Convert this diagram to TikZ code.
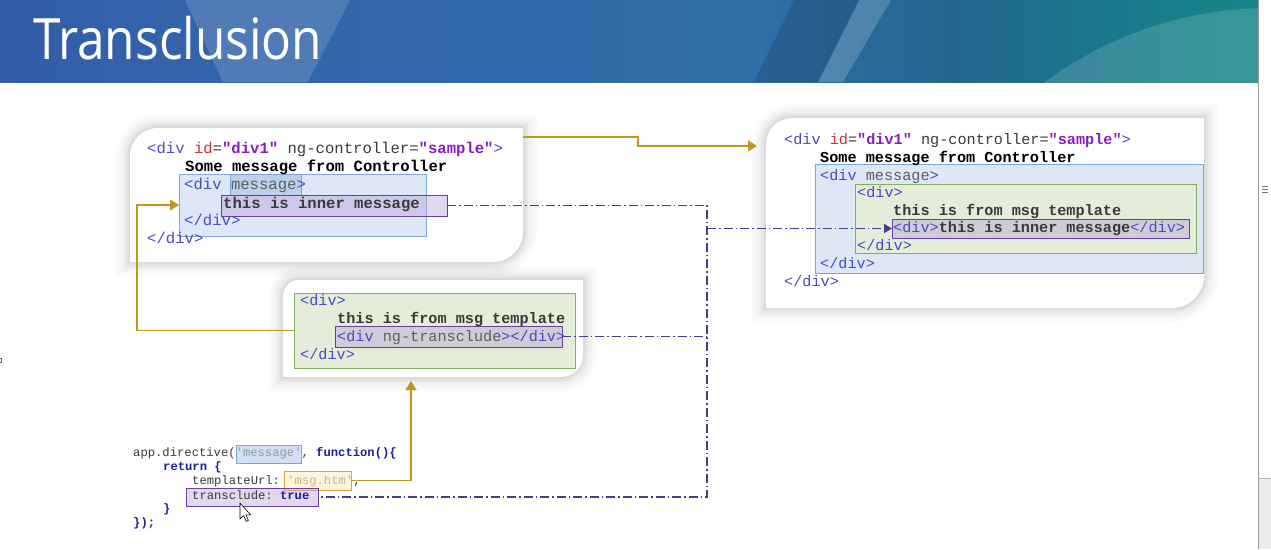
\documentclass[tikz,border=0pt]{standalone}
\usepackage{fontspec}
\setmainfont{Open Sans}
\setmonofont{Liberation Mono}
\usepackage{tikz}
\usetikzlibrary{arrows.meta, positioning}

\definecolor{tagblue}{HTML}{4A4AC4}
\definecolor{attrred}{HTML}{C8323C}
\definecolor{valpurple}{HTML}{8A1CC4}
\definecolor{kwnavy}{HTML}{1E1E96}
\definecolor{codegray}{HTML}{3A3A3A}
\definecolor{namegray}{HTML}{5E5E5E}
\definecolor{strgray}{HTML}{9A9A9A}
\definecolor{strtan}{HTML}{C4B48E}
\definecolor{edgeblue}{HTML}{7EA6D8}
\definecolor{fillblue}{HTML}{DDE7F6}
\definecolor{markblue}{HTML}{BBD0EB}
\definecolor{edgegreen}{HTML}{84AE5E}
\definecolor{fillgreen}{HTML}{E4EDD9}
\definecolor{edgepurple}{HTML}{6A3E9E}
\definecolor{fillpurple}{HTML}{B49BD6}
\definecolor{edgegold}{HTML}{D6A73C}
\definecolor{fillgold}{HTML}{FDF4DB}
\definecolor{flowgold}{HTML}{C0961F}
\definecolor{linkpurple}{HTML}{4A3C8C}
\definecolor{bannerA}{HTML}{2D3E8D}
\definecolor{bannerB}{HTML}{304A9C}
\definecolor{bannerC}{HTML}{3462AA}
\definecolor{bannerD}{HTML}{2F6EA8}
\definecolor{bannerE}{HTML}{22668E}
\definecolor{bannerF}{HTML}{16808A}
\definecolor{bannerG}{HTML}{189888}
\definecolor{bannerH}{HTML}{22A38E}

\pgfdeclarehorizontalshading{banner}{100bp}{color(0bp)=(bannerA); color(14bp)=(bannerB); color(30bp)=(bannerC); color(55bp)=(bannerD); color(63bp)=(bannerE); color(72bp)=(bannerF); color(85bp)=(bannerG); color(100bp)=(bannerH)}

\newcommand\tagc[1]{\textcolor{tagblue}{#1}}
\newcommand\attrc[1]{\textcolor{attrred}{#1}}
\newcommand\valc[1]{\textbf{\textcolor{valpurple}{#1}}}
\newcommand\kwc[1]{\textbf{\textcolor{kwnavy}{#1}}}

\tikzset{
    srcline/.style={font=\ttfamily\fontsize{#1}{18}\selectfont, text=codegray, inner sep=0, anchor=west, text height=10pt, text depth=2pt}, % html lines
    srcline/.default=15.2,
    jsline/.style={font=\ttfamily\fontsize{12.2}{14}\selectfont, text=codegray, inner sep=0, anchor=west, text height=8pt, text depth=2pt}, % script lines
    cardbox/.style={inner sep=0, outer sep=0, anchor=north west}, % frame of a card
    card/.style={fill=white, line join=round,
        preaction={draw=black, opacity=0.018, line width=28pt},
        preaction={draw=black, opacity=0.02, line width=21pt},
        preaction={draw=black, opacity=0.022, line width=15pt},
        preaction={draw=black, opacity=0.026, line width=10pt},
        preaction={draw=black, opacity=0.03, line width=6pt},
        preaction={draw=black, opacity=0.035, line width=2.5pt}},
    hlbox/.style={inner sep=0, outer sep=0, anchor=north west, line width=1pt},
    bluebox/.style={hlbox, draw=edgeblue, fill=fillblue},
    msgbox/.style={hlbox, draw=edgeblue, fill=markblue},
    greenbox/.style={hlbox, draw=edgegreen, fill=fillgreen},
    purplebox/.style={hlbox, draw=edgepurple, fill=fillpurple, fill opacity=0.4},
    goldbox/.style={hlbox, draw=edgegold, fill=fillgold},
    flow/.style={draw=flowgold, line width=1.5pt, -{Triangle[length=9pt, width=11pt]}}, % gold arrows
    link/.style={draw=linkpurple, line width=1.1pt, dash pattern=on 9pt off 3pt on 1.5pt off 3pt} % transclusion links
}

\begin{document}
\begin{tikzpicture}[x=1pt, y=-1pt]
    \fill[white] (0,0) rectangle (1271,549);
    \useasboundingbox (0,0) rectangle (1271,549);

    % banner
    \shade[shading=banner] (0,0) rectangle (1258,82);
    \fill[white, opacity=0.15] (185,0) -- (350,0) -- (308,82) -- (223,82) -- cycle;
    \fill[black, opacity=0.12] (794,0) -- (859,0) -- (818,82) -- (754,82) -- cycle;
    \fill[white, opacity=0.18] (859,0) -- (891,0) -- (843,82) -- (818,82) -- cycle;
    \begin{scope}
        \clip (0,0) rectangle (1258,82);
        \fill[white, opacity=0.15] (1270,387) circle[radius=379];
    \end{scope}
    \node[font=\fontsize{57}{60}\selectfont, text=white, xscale=0.87, anchor=base west, inner sep=0] (title) at (33,59) {Transclusion};

    % scrollbar
    \fill[black!8] (1258,478) rectangle (1271,549);
    \draw[black!40] (1258,0) -- (1258,549);
    \draw[black!30] (1258,478) -- (1271,478);
    \foreach \g in {186,189,192}
        \draw[black!55, line width=0.8pt] (1262,\g) -- (1268,\g);
    \draw[black!60, line width=0.6pt] (-0.5,358) rectangle (1.5,362);

    % cards
    \node[cardbox, minimum width=393pt, minimum height=134pt] (ctrl) at (130,128) {};
    \node[cardbox, minimum width=438pt, minimum height=190pt] (result) at (766,118) {};
    \node[cardbox, minimum width=300pt, minimum height=97pt] (tmpl) at (283,280) {};
    \foreach \c/\r/\s in {ctrl/28/30, result/26/32, tmpl/16/22}
        \path[card] (\c.west) [rounded corners=\r pt] -- (\c.north west) -- (\c.north) [sharp corners] -- (\c.north east) -- (\c.east) [rounded corners=\s pt] -- (\c.south east) -- (\c.south) [sharp corners] -- (\c.south west) -- cycle;

    % controller view
    \node[bluebox, minimum width=247pt, minimum height=62pt] (cblue) at (179,174) {};
    \node[msgbox, minimum width=71pt, minimum height=21pt] (cmsg) at (230,174) {};
    \node[purplebox, minimum width=226pt, minimum height=21pt] (cinner) at (221,195) {};
    \node[srcline=15.6] (ctrl1) at (147,149) {\tagc{<div }\attrc{id}=\valc{"div1"} ng-controller=\valc{"sample"}\tagc{>}};
    \node[srcline=15.6, text=black] (ctrl2) at (185,167) {\textbf{Some message from Controller}};
    \node[srcline=15.6, text=namegray] (ctrl3) at (184,185) {\tagc{<div }message\tagc{>}};
    \node[srcline=15.6] (ctrl4) at (223,204) {\textbf{this is inner message}};
    \node[srcline=15.6] (ctrl5) at (184,221) {\tagc{</div>}};
    \node[srcline=15.6] (ctrl6) at (147,239) {\tagc{</div>}};

    % rendered result
    \node[bluebox, minimum width=388pt, minimum height=109pt] (rblue) at (815,164) {};
    \node[greenbox, minimum width=341pt, minimum height=69pt] (rgreen) at (855,184) {};
    \node[purplebox, minimum width=297pt, minimum height=19pt] (rinner) at (892,219) {};
    \node[srcline] (res1) at (784,140) {\tagc{<div }\attrc{id}=\valc{"div1"} ng-controller=\valc{"sample"}\tagc{>}};
    \node[srcline, text=black] (res2) at (820,158) {\textbf{Some message from Controller}};
    \node[srcline, text=namegray] (res3) at (820,176) {\tagc{<div }message\tagc{>}};
    \node[srcline] (res4) at (857,193) {\tagc{<div>}};
    \node[srcline] (res5) at (893,211) {\textbf{this is from msg template}};
    \node[srcline] (res6) at (893,228.5) {\tagc{<div>}\textbf{this is inner message}\tagc{</div>}};
    \node[srcline] (res7) at (857,246) {\tagc{</div>}};
    \node[srcline] (res8) at (820,264) {\tagc{</div>}};
    \node[srcline] (res9) at (784,282) {\tagc{</div>}};

    % template
    \node[greenbox, minimum width=281pt, minimum height=75pt] (tgreen) at (294,293) {};
    \node[purplebox, minimum width=227pt, minimum height=21pt] (tinner) at (335,326) {};
    \node[srcline] (tpl1) at (300,301) {\tagc{<div>}};
    \node[srcline] (tpl2) at (337,319) {\textbf{this is from msg template}};
    \node[srcline, text=namegray] (tpl3) at (337,337) {\tagc{<div }ng-transclude\tagc{></div>}};
    \node[srcline] (tpl4) at (300,355) {\tagc{</div>}};

    % directive
    \node[msgbox, fill=fillblue!70!markblue, minimum width=65pt, minimum height=18pt] (jsmsg) at (236,445) {};
    \node[goldbox, minimum width=67pt, minimum height=19pt] (jsurl) at (284,471) {};
    \node[purplebox, minimum width=132pt, minimum height=18pt] (jstrans) at (186,488) {};
    \node[jsline] (js1) at (133,453) {app.directive(\textcolor{strgray}{'message'}, \kwc{function()\{}};
    \node[jsline] (js2) at (163,467) {\kwc{return \{}};
    \node[jsline] (js3) at (192,481) {templateUrl: \textcolor{strtan}{'msg.htm'},};
    \node[jsline] (js4) at (192,496) {transclude: \kwc{true}};
    \node[jsline] (js5) at (163,509) {\kwc{\}}};
    \node[jsline] (js6) at (133,523) {\kwc{\});}};

    % connectors
    \coordinate (bus) at (707,300);
    \draw[link] (cinner.east) -- (cinner.east -| bus) |- (jstrans.east);
    \draw[link] (tinner.east) -- (tinner.east -| bus);
    \draw[link, -{Triangle[length=8pt, width=9pt]}] (rinner.west -| bus) -- (rinner.west);
    \draw[flow] ([yshift=-9pt]ctrl.north east) -- ++(115,0) |- ([xshift=-9pt, yshift=-28pt]result.north west);
    \draw[flow] (jsurl.east) -| ([xshift=-22pt, yshift=-4pt]tmpl.south);
    \draw[flow] (tgreen.west) -- ++(-157,0) |- (cblue.west);

    % pointer
    \draw[fill=white, line width=0.6pt, line join=round] (240,503) -- (240,519) -- (243.6,515.6) -- (246.2,521.4) -- (248.4,520.4) -- (245.9,514.8) -- (250.6,514.8) -- cycle;
\end{tikzpicture}
\end{document}
